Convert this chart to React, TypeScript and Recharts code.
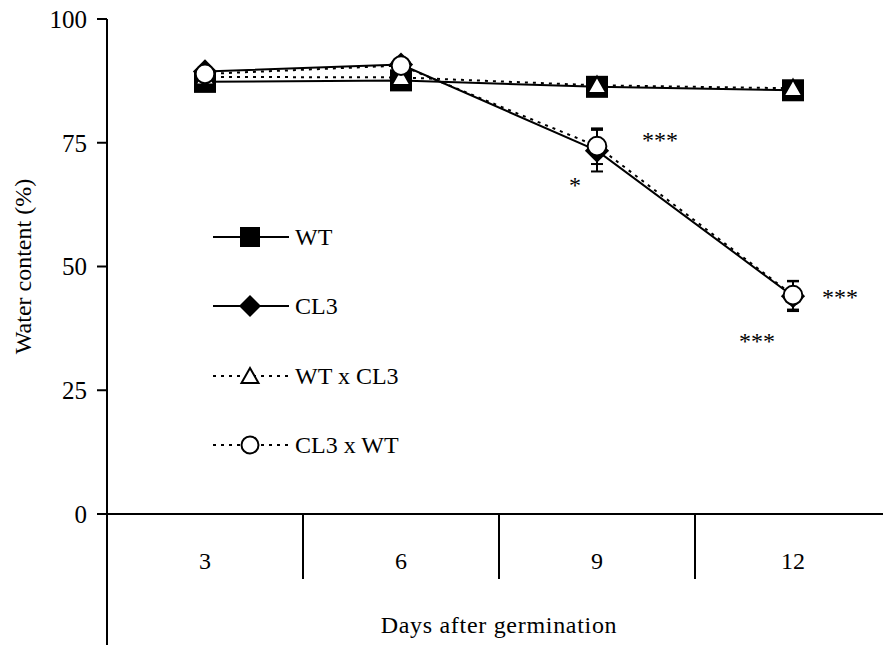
import React from "react";
import { LineChart, Line, XAxis, YAxis, ErrorBar, Legend, ReferenceDot } from "recharts";

const days = ["3", "6", "9", "12"];
const wt = [87.3, 87.6, 86.3, 85.6];
const cl3 = [89.4, 90.8, 73.4, 44.0];
const wtXcl3 = [88.3, 88.2, 86.6, 86.0];
const cl3Xwt = [88.9, 90.6, 74.3, 44.2];
const cl3Err = [0.5, 0.5, 4.2, 3.0];
const cl3XwtErr = [0.5, 0.5, 3.6, 2.9];
const yTicks = [0, 25, 50, 75, 100];

// significance stars: day, level (%) where they sit, text
const sigDays = ["9", "9", "12", "12"];
const sigLevels = [76.4, 67.3, 44.6, 35.8];
const sigTexts = ["***", "*", "***", "***"];

const seriesNames = ["WT", "CL3", "WT x CL3", "CL3 x WT"];

const data = days.map((day, i) => ({
  day,
  wt: wt[i],
  cl3: cl3[i],
  wtXcl3: wtXcl3[i],
  cl3Xwt: cl3Xwt[i],
  cl3Err: cl3Err[i],
  cl3XwtErr: cl3XwtErr[i],
}));

const FONT = "'Liberation Serif', 'Times New Roman', serif";
const INK = "#000";
const HALF_BAND = 98;
const SIG_DX = [63, -22, 47, -36];
const DASH = "3 5";

type Shape = "square" | "diamond" | "triangle" | "circle";
const shapes: Shape[] = ["square", "diamond", "triangle", "circle"];
const dashed = [false, false, true, true];

function Marker({ shape, cx, cy, s = 1 }: { shape: Shape; cx: number; cy: number; s?: number }) {
  if (shape === "square") {
    const h = 10 * s;
    return <rect x={cx - h} y={cy - h} width={2 * h} height={2 * h} fill={INK} />;
  }
  if (shape === "diamond") {
    const h = 11 * s;
    return <polygon points={`${cx},${cy - h} ${cx + h},${cy} ${cx},${cy + h} ${cx - h},${cy}`} fill={INK} />;
  }
  if (shape === "triangle") {
    return (
      <polygon
        points={`${cx},${cy - 8 * s} ${cx + 8.5 * s},${cy + 7 * s} ${cx - 8.5 * s},${cy + 7 * s}`}
        fill="#fff"
        stroke={INK}
        strokeWidth={2}
      />
    );
  }
  return <circle cx={cx} cy={cy} r={8.5 * s} fill="#fff" stroke={INK} strokeWidth={2} />;
}

const dotFor = (shape: Shape, key: string) => (p: any) =>
  <Marker key={`${key}-${p.index}`} shape={shape} cx={p.cx} cy={p.cy} s={1.1} />;

function DayTick(props: any) {
  const { x, y, payload, index } = props;
  return (
    <g>
      <line x1={x + HALF_BAND} x2={x + HALF_BAND} y1={y} y2={y + 65} stroke={INK} strokeWidth={2} />
      {index === 0 && (
        <line x1={x - HALF_BAND} x2={x - HALF_BAND} y1={y} y2={y + 140} stroke={INK} strokeWidth={2} />
      )}
      <text x={x} y={y + 55} textAnchor="middle" fontFamily={FONT} fontSize={24} fill={INK}>
        {payload.value}
      </text>
    </g>
  );
}

function LegendBox() {
  return (
    <div style={{ fontFamily: FONT, fontSize: 24, color: INK }}>
      {seriesNames.map((name, i) => (
        <div key={name} style={{ display: "flex", alignItems: "center", height: 69.5 }}>
          <svg width={76} height={30} style={{ display: "block" }}>
            <line
              x1={0}
              x2={76}
              y1={15}
              y2={15}
              stroke={INK}
              strokeWidth={2}
              strokeDasharray={dashed[i] ? DASH : undefined}
            />
            <Marker shape={shapes[i]} cx={37} cy={15} />
          </svg>
          <span style={{ marginLeft: 6, lineHeight: 1 }}>{name}</span>
        </div>
      ))}
    </div>
  );
}

export default function App() {
  return (
    <div
      style={{
        position: "absolute",
        left: 0,
        top: 0,
        width: 883,
        height: 645,
        overflow: "hidden",
        background: "#fff",
      }}
    >
      <LineChart width={900} height={645} data={data} margin={{ top: 19, right: 9, bottom: 0, left: 0 }}>
        <XAxis
          dataKey="day"
          scale="point"
          padding={{ left: HALF_BAND, right: HALF_BAND }}
          height={131}
          axisLine={{ stroke: INK, strokeWidth: 2 }}
          tickLine={false}
          tickSize={0}
          tickMargin={0}
          tick={<DayTick />}
          label={{
            value: "Days after germination",
            position: "insideBottom",
            offset: 12,
            style: { fontFamily: FONT, fontSize: 24, fill: INK, letterSpacing: 0.7 },
          }}
        />
        <YAxis
          domain={[0, 100]}
          ticks={yTicks}
          width={107}
          axisLine={{ stroke: INK, strokeWidth: 2 }}
          tickLine={{ stroke: INK, strokeWidth: 2 }}
          tickSize={10}
          tickMargin={10}
          tick={{ fill: INK, fontSize: 25, fontFamily: FONT }}
          label={{
            value: "Water content (%)",
            angle: -90,
            position: "insideLeft",
            offset: 22,
            style: { textAnchor: "middle", fontFamily: FONT, fontSize: 24, fill: INK },
          }}
        />
        <Legend
          layout="vertical"
          align="center"
          verticalAlign="middle"
          content={<LegendBox />}
          wrapperStyle={{ left: 213, top: 202, width: "auto" }}
        />
        <Line
          type="linear"
          dataKey="wt"
          name={seriesNames[0]}
          stroke={INK}
          strokeWidth={2}
          dot={dotFor("square", "wt")}
          activeDot={false}
          isAnimationActive={false}
        />
        <Line
          type="linear"
          dataKey="cl3"
          name={seriesNames[1]}
          stroke={INK}
          strokeWidth={2}
          dot={dotFor("diamond", "cl3")}
          activeDot={false}
          isAnimationActive={false}
        >
          <ErrorBar dataKey="cl3Err" direction="y" width={6} stroke={INK} strokeWidth={2} isAnimationActive={false} />
        </Line>
        <Line
          type="linear"
          dataKey="wtXcl3"
          name={seriesNames[2]}
          stroke={INK}
          strokeWidth={2}
          strokeDasharray={DASH}
          dot={dotFor("triangle", "wtx")}
          activeDot={false}
          isAnimationActive={false}
        />
        <Line
          type="linear"
          dataKey="cl3Xwt"
          name={seriesNames[3]}
          stroke={INK}
          strokeWidth={2}
          strokeDasharray={DASH}
          dot={dotFor("circle", "clx")}
          activeDot={false}
          isAnimationActive={false}
        >
          <ErrorBar dataKey="cl3XwtErr" direction="y" width={6} stroke={INK} strokeWidth={2} isAnimationActive={false} />
        </Line>
        {sigDays.map((day, i) => (
          <ReferenceDot
            key={`sig-${i}`}
            x={day}
            y={sigLevels[i]}
            r={0}
            shape={(p: any) => (
              <text
                x={p.cx + SIG_DX[i]}
                y={p.cy + 12}
                textAnchor="middle"
                fontFamily={FONT}
                fontSize={24}
                fill={INK}
              >
                {sigTexts[i]}
              </text>
            )}
          />
        ))}
      </LineChart>
    </div>
  );
}
